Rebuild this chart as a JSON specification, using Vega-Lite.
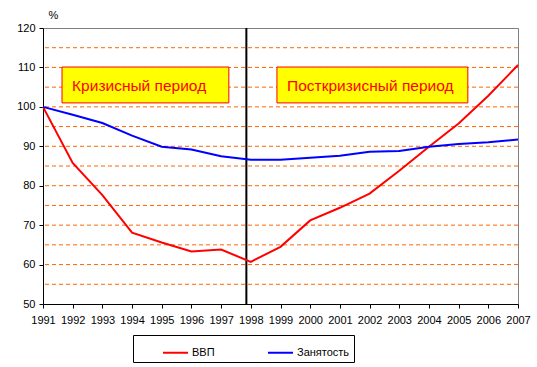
{
  "$schema": "https://vega.github.io/schema/vega-lite/v6.json",
  "width": 475,
  "height": 276,
  "autosize": "none",
  "padding": {"left": 43, "top": 28, "right": 19, "bottom": 63},
  "config": {
    "font": "Liberation Sans",
    "view": {"stroke": "#808080", "strokeWidth": 1},
    "axis": {"labelFont": "Liberation Sans", "labelFontSize": 11, "labelColor": "#000", "domainColor": "#000", "tickColor": "#000", "grid": false, "tickSize": 4, "labelOverlap": false, "labelFlush": false}
  },
  "datasets": {
    "series": [
      {"year": 1991, "series": "ВВП", "value": 100},
      {"year": 1992, "series": "ВВП", "value": 85.8},
      {"year": 1993, "series": "ВВП", "value": 77.6},
      {"year": 1994, "series": "ВВП", "value": 68.1},
      {"year": 1995, "series": "ВВП", "value": 65.6},
      {"year": 1996, "series": "ВВП", "value": 63.3},
      {"year": 1997, "series": "ВВП", "value": 63.8},
      {"year": 1998, "series": "ВВП", "value": 60.7},
      {"year": 1999, "series": "ВВП", "value": 64.5},
      {"year": 2000, "series": "ВВП", "value": 71.2},
      {"year": 2001, "series": "ВВП", "value": 74.4},
      {"year": 2002, "series": "ВВП", "value": 78.0},
      {"year": 2003, "series": "ВВП", "value": 83.8},
      {"year": 2004, "series": "ВВП", "value": 89.9},
      {"year": 2005, "series": "ВВП", "value": 95.8},
      {"year": 2006, "series": "ВВП", "value": 102.8},
      {"year": 2007, "series": "ВВП", "value": 110.6},
      {"year": 1991, "series": "Занятость", "value": 100},
      {"year": 1992, "series": "Занятость", "value": 98.0},
      {"year": 1993, "series": "Занятость", "value": 95.9},
      {"year": 1994, "series": "Занятость", "value": 92.7},
      {"year": 1995, "series": "Занятость", "value": 89.9},
      {"year": 1996, "series": "Занятость", "value": 89.2},
      {"year": 1997, "series": "Занятость", "value": 87.5},
      {"year": 1998, "series": "Занятость", "value": 86.6},
      {"year": 1999, "series": "Занятость", "value": 86.6},
      {"year": 2000, "series": "Занятость", "value": 87.1},
      {"year": 2001, "series": "Занятость", "value": 87.6},
      {"year": 2002, "series": "Занятость", "value": 88.6},
      {"year": 2003, "series": "Занятость", "value": 88.8},
      {"year": 2004, "series": "Занятость", "value": 89.9},
      {"year": 2005, "series": "Занятость", "value": 90.6},
      {"year": 2006, "series": "Занятость", "value": 91.0},
      {"year": 2007, "series": "Занятость", "value": 91.7}
    ],
    "grid": [
      {"v": 55}, {"v": 60}, {"v": 65}, {"v": 70}, {"v": 75}, {"v": 80}, {"v": 85},
      {"v": 90}, {"v": 95}, {"v": 100}, {"v": 105}, {"v": 110}, {"v": 115}
    ],
    "boxes": [
      {"x1": 1991.64, "x2": 1997.26, "y1": 101.0, "y2": 110.1, "tx": 1991.98, "ty": 105.4, "label": "Кризисный период"},
      {"x1": 1998.88, "x2": 2005.31, "y1": 101.0, "y2": 110.1, "tx": 1999.22, "ty": 105.4, "label": "Посткризисный период"}
    ],
    "divider": [{"x": 1997.85}]
  },
  "encoding": {
    "x": {"type": "quantitative", "scale": {"domain": [1991, 2007], "nice": false, "zero": false},
      "axis": {"values": [1991,1992,1993,1994,1995,1996,1997,1998,1999,2000,2001,2002,2003,2004,2005,2006,2007], "format": "d", "title": null, "labelPadding": 6, "grid": false, "labelOverlap": false}},
    "y": {"type": "quantitative", "scale": {"domain": [50, 120], "nice": false, "zero": false},
      "axis": {"values": [50, 60, 70, 80, 90, 100, 110, 120], "grid": false, "labelOverlap": false, "title": "%", "titleAngle": 0, "titleX": 5, "titleY": -8, "titleAlign": "left", "titleFont": "Liberation Sans", "titleFontSize": 11, "titleFontWeight": "normal", "labelPadding": 4}}
  },
  "layer": [
    {
      "data": {"name": "grid"},
      "mark": {"type": "rule", "color": "#FF6600", "strokeDash": [4, 3], "strokeWidth": 1},
      "encoding": {
        "x": null,
        "y": {"field": "v"}
      }
    },
    {
      "data": {"name": "divider"},
      "mark": {"type": "rule", "color": "#000", "strokeWidth": 2},
      "encoding": {
        "x": {"field": "x"},
        "y": null
      }
    },
    {
      "data": {"name": "series"},
      "mark": {"type": "line", "strokeWidth": 2},
      "encoding": {
        "x": {"field": "year"},
        "y": {"field": "value"},
        "color": {"field": "series", "type": "nominal",
          "scale": {"domain": ["ВВП", "Занятость"], "range": ["#FF0000", "#0000FF"]},
          "legend": {"title": null, "orient": "none", "legendX": 90, "legendY": 307, "direction": "horizontal",
            "symbolType": "stroke", "symbolSize": 625, "symbolStrokeWidth": 2, "labelFontSize": 11, "labelFont": "Liberation Sans",
            "strokeColor": "#000", "fillColor": "#fff", "padding": 4, "columnPadding": 27, "symbolOffset": 25, "labelOffset": 3}}
      }
    },
    {
      "data": {"name": "boxes"},
      "mark": {"type": "rect", "fill": "#FFFF00", "stroke": "#FF0000", "strokeWidth": 1},
      "encoding": {
        "x": {"field": "x1"},
        "x2": {"field": "x2"},
        "y": {"field": "y1"},
        "y2": {"field": "y2"}
      }
    },
    {
      "data": {"name": "boxes"},
      "mark": {"type": "text", "color": "#FF0000", "fontSize": 15.5, "font": "Liberation Sans", "align": "left", "baseline": "middle"},
      "encoding": {
        "x": {"field": "tx"},
        "y": {"field": "ty"},
        "text": {"field": "label"}
      }
    }
  ]
}
